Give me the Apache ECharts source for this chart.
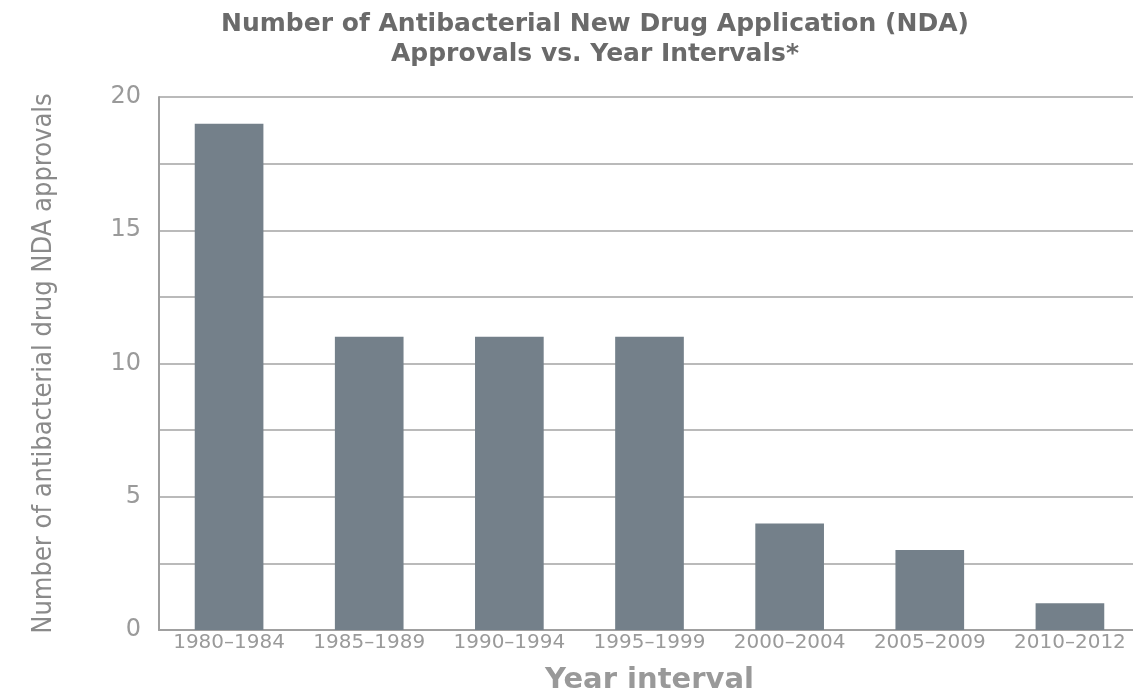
<!DOCTYPE html>
<html>
<head>
<meta charset="utf-8">
<script src="https://cdn.jsdelivr.net/npm/echarts@6/dist/echarts.min.js"></script>
<style>
  html, body { margin: 0; padding: 0; background: #ffffff; }
  #chart { width: 1133px; height: 693px; }
</style>
</head>
<body>
<div id="chart"></div>
<script>
// Antibacterial NDA approvals per five-year interval
const intervals = ['1980\u20131984', '1985\u20131989', '1990\u20131994', '1995\u20131999', '2000\u20132004', '2005\u20132009', '2010\u20132012'];
const approvals = [19, 11, 11, 11, 4, 3, 1];
const yLabeled = [0, 5, 10, 15, 20];

const chart = echarts.init(document.getElementById('chart'), null, { renderer: 'canvas' });

chart.setOption({
  animation: false,
  backgroundColor: '#ffffff',
  title: {
    text: 'Number of Antibacterial New Drug Application (NDA)\nApprovals vs. Year Intervals*',
    left: 590,
    top: 4,
    textAlign: 'center',
    textStyle: {
      fontFamily: 'DejaVu Sans',
      fontSize: 25,
      fontWeight: 'bold',
      color: '#6a6a6a',
      lineHeight: 30
    }
  },
  grid: { left: 159, right: -7, top: 97, bottom: 63, containLabel: false, outerBoundsMode: 'none' },
  xAxis: {
    type: 'category',
    data: intervals,
    name: 'Year interval',
    nameLocation: 'middle',
    nameGap: 36,
    nameTextStyle: { fontFamily: 'DejaVu Sans', fontSize: 29, fontWeight: 'bold', color: '#999999' },
    axisLine: { show: true, lineStyle: { color: '#a0a0a0', width: 2 } },
    axisTick: { show: false },
    axisLabel: { margin: 3, fontFamily: 'DejaVu Sans', fontSize: 20, color: '#9a9a9a', interval: 0 }
  },
  yAxis: {
    type: 'value',
    min: 0,
    max: 20,
    interval: 2.5,
    name: 'Number of antibacterial drug NDA approvals',
    nameLocation: 'middle',
    nameGap: 102,
    nameRotate: 90,
    nameTextStyle: { fontFamily: 'DejaVu Sans Condensed', fontSize: 27, color: '#8a8a8a' },
    axisLine: { show: true, lineStyle: { color: '#a0a0a0', width: 2 } },
    axisTick: { show: false },
    axisLabel: {
      margin: 18,
      fontFamily: 'DejaVu Sans',
      fontSize: 24,
      color: '#9a9a9a',
      formatter: v => (yLabeled.indexOf(v) >= 0 ? String(v) : '')
    },
    splitLine: { show: true, lineStyle: { color: '#a3a3a3', width: 1.5 } }
  },
  series: [{
    type: 'bar',
    data: approvals,
    barWidth: '49%',
    itemStyle: { color: '#74808a' }
  }]
});
</script>
</body>
</html>
